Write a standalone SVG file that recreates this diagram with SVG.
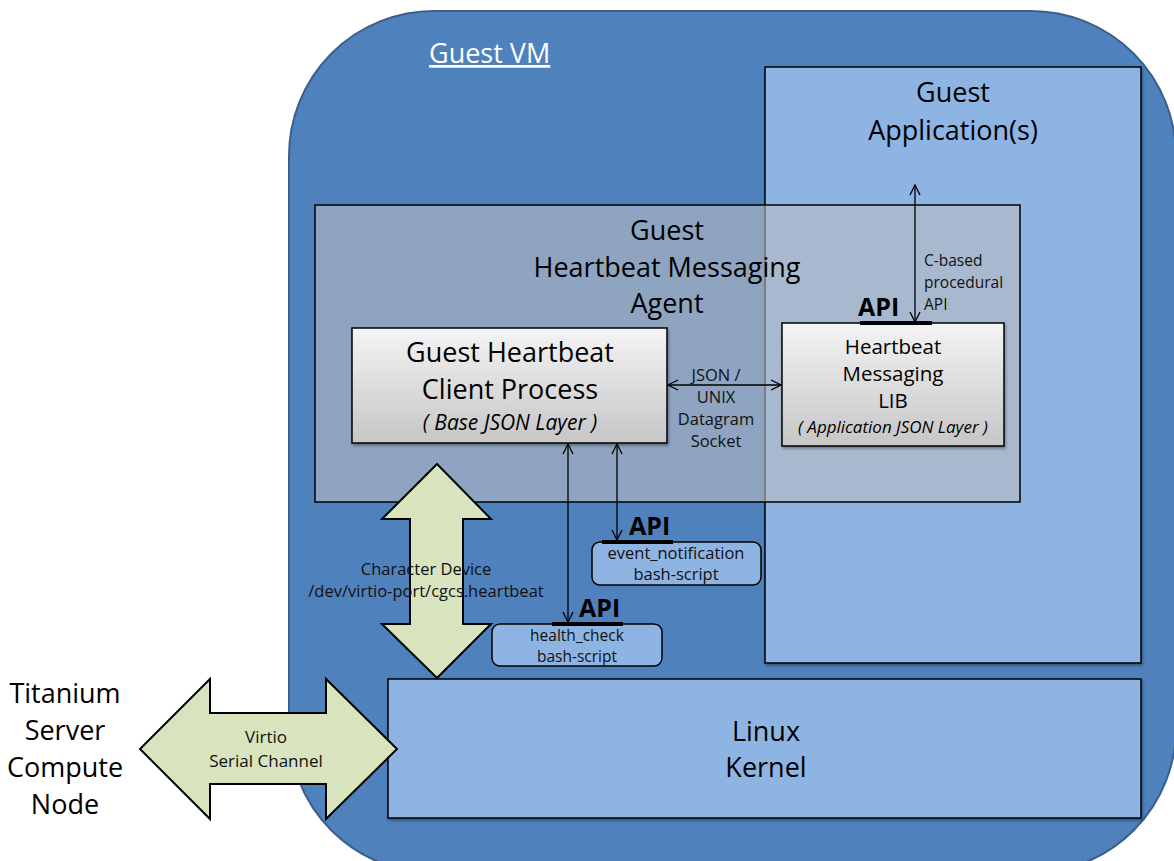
<svg xmlns="http://www.w3.org/2000/svg" width="1174" height="861" viewBox="0 0 1174 861">
<defs>
<linearGradient id="gbox" x1="0" y1="0" x2="0" y2="1">
<stop offset="0" stop-color="#F4F4F4"/>
<stop offset="1" stop-color="#C6C6C6"/>
</linearGradient>
<marker id="oa" viewBox="0 0 12 12" refX="11" refY="6" markerWidth="12" markerHeight="12" markerUnits="userSpaceOnUse" orient="auto-start-reverse">
<path d="M1,1 L11,6 L1,11" fill="none" stroke="#000" stroke-width="1.3"/>
</marker>
<filter id="sh" x="-5%" y="-5%" width="110%" height="115%">
<feDropShadow dx="1" dy="2" stdDeviation="1.5" flood-color="#000" flood-opacity="0.35"/>
</filter>
</defs>
<style>
text{font-family:"Open Sans",Lato,"Liberation Sans",sans-serif;fill:#000;}
.big{font-size:27px;text-anchor:middle;}
.sm{font-size:16.5px;text-anchor:middle;fill:#111;}
.hc{font-size:15.5px;text-anchor:middle;fill:#111;}
.it{font-style:italic;}
.api{font-size:25px;font-weight:bold;}
.box{stroke:#000;stroke-width:1.5;}
.lt{fill:#8EB4E3;}
.conn{stroke:#000;stroke-width:1.3;fill:none;marker-start:url(#oa);marker-end:url(#oa);}
.bar{stroke:#000;stroke-width:4;}
.fat{fill:#D7E4BD;stroke:#000;stroke-width:2;stroke-linejoin:miter;}
</style>

<g id="guest-vm">
<rect x="289" y="11" width="887" height="862" rx="145" ry="145" fill="#4F81BD" stroke="#3A5F8C" stroke-width="2"/>
<text x="429" y="63" style="font-size:27px;fill:#fff;" text-decoration="underline">Guest VM</text>
</g>

<g id="guest-app">
<rect class="box lt" x="765" y="67" width="376" height="596" filter="url(#sh)"/>
<text class="big" x="953" y="102">Guest</text>
<text class="big" x="953" y="140">Application(s)</text>
</g>

<g id="agent">
<rect x="315" y="205" width="705" height="297" fill="#B9BCC1" fill-opacity="0.6" stroke="#000" stroke-width="1.5"/>
<text class="big" x="667" y="240">Guest</text>
<text class="big" x="667" y="277">Heartbeat Messaging</text>
<text class="big" x="667" y="313">Agent</text>
</g>

<g id="client-process">
<rect class="box" x="352" y="328" width="315" height="115" fill="url(#gbox)" filter="url(#sh)"/>
<text class="big" x="510" y="362">Guest Heartbeat</text>
<text class="big" x="510" y="399">Client Process</text>
<text class="it" x="510" y="430" style="font-size:21px;text-anchor:middle;">( Base JSON Layer )</text>
</g>

<g id="hb-lib">
<rect class="box" x="782" y="323" width="222" height="123" fill="url(#gbox)" filter="url(#sh)"/>
<text x="893" y="354" style="font-size:20.5px;text-anchor:middle;">Heartbeat</text>
<text x="893" y="381" style="font-size:20.5px;text-anchor:middle;">Messaging</text>
<text x="893" y="408" style="font-size:20.5px;text-anchor:middle;">LIB</text>
<text class="it" x="893" y="433" style="font-size:17px;text-anchor:middle;">( Application JSON Layer )</text>
<line class="bar" x1="860" y1="323" x2="932" y2="323"/>
<text class="api" x="858" y="316">API</text>
</g>

<g id="event-notification">
<rect class="box lt" x="592" y="542" width="169" height="43" rx="8"/>
<text class="sm" x="676" y="559">event_notification</text>
<text class="sm" x="676" y="580">bash-script</text>
<line class="bar" x1="602" y1="542" x2="673" y2="542"/>
<text class="api" x="629" y="535">API</text>
</g>

<g id="health-check">
<rect class="box lt" x="492" y="624" width="170" height="42" rx="8"/>
<text class="hc" x="577" y="641">health_check</text>
<text class="hc" x="577" y="662">bash-script</text>
<line class="bar" x1="552" y1="624" x2="623" y2="624"/>
<text class="api" x="579" y="617">API</text>
</g>

<g id="linux-kernel">
<rect class="box lt" x="388" y="679" width="753" height="139" filter="url(#sh)"/>
<text class="big" x="766" y="741">Linux</text>
<text class="big" x="766" y="777">Kernel</text>
</g>

<g id="compute-node">
<text x="65" y="703" style="font-size:27px;text-anchor:middle;">Titanium</text>
<text x="65" y="740" style="font-size:27px;text-anchor:middle;">Server</text>
<text x="65" y="777" style="font-size:27px;text-anchor:middle;">Compute</text>
<text x="65" y="814" style="font-size:27px;text-anchor:middle;">Node</text>
</g>

<g id="connectors">
<line class="conn" x1="915" y1="185" x2="915" y2="322"/>
<text x="924" y="266" style="font-size:15.5px;fill:#111;">C-based</text>
<text x="924" y="288" style="font-size:15.5px;fill:#111;">procedural</text>
<text x="924" y="310" style="font-size:15.5px;fill:#111;">API</text>

<line class="conn" x1="668" y1="385" x2="781" y2="385"/>
<text class="sm" x="716" y="381">JSON /</text>
<text class="sm" x="716" y="403">UNIX</text>
<text class="sm" x="716" y="425">Datagram</text>
<text class="sm" x="716" y="447">Socket</text>

<line class="conn" x1="568" y1="444" x2="568" y2="622"/>
<line class="conn" x1="617" y1="444" x2="617" y2="540"/>

<path class="fat" d="M437,464 L491,519 L463,519 L463,624 L491,624 L437,678 L382,624 L410,624 L410,519 L382,519 Z"/>
<text class="sm" x="426" y="575">Character Device</text>
<text class="sm" x="426" y="597">/dev/virtio-port/cgcs.heartbeat</text>

<path class="fat" d="M140,749 L210,679 L210,713 L326,713 L326,679 L397,749 L326,819 L326,784 L210,784 L210,819 Z"/>
<text x="266" y="743" style="font-size:17px;text-anchor:middle;fill:#111;">Virtio</text>
<text x="266" y="767" style="font-size:17px;text-anchor:middle;fill:#111;">Serial Channel</text>
</g>
</svg>
